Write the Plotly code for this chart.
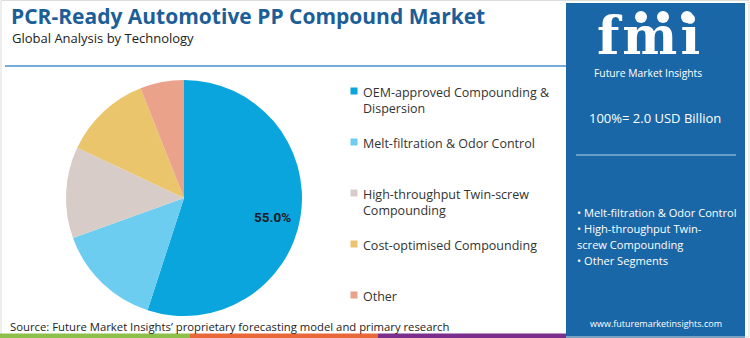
import math
import plotly.graph_objects as go

W, H = 750, 338

# Market share by technology (%)
segments = [
    "OEM-approved Compounding & Dispersion",
    "Melt-filtration & Odor Control",
    "High-throughput Twin-screw Compounding",
    "Cost-optimised Compounding",
    "Other",
]
legend_text = [
    "OEM-approved Compounding &<br>Dispersion",
    "Melt-filtration & Odor Control",
    "High-throughput Twin-screw<br>Compounding",
    "Cost-optimised Compounding",
    "Other",
]
shares = [55.0, 14.5, 12.5, 12.0, 6.0]
colors = ["#0aa5dc", "#6dcdf1", "#d8ccc8", "#ebc56c", "#eaa28b"]

title = "PCR-Ready Automotive PP Compound Market"
subtitle = "Global Analysis by Technology"
total_label = "100%= 2.0 USD Billion"
panel_bullets = [
    "• Melt-filtration & Odor Control",
    "• High-throughput Twin-",
    "screw Compounding",
    "• Other Segments",
]
source = "Source: Future Market Insights’ proprietary forecasting model and primary research"
website = "www.futuremarketinsights.com"

PANEL = "#1a67a8"
FONT = "Open Sans"


def px(x):
    return x / W


def py(y):
    return 1 - y / H


# pie geometry (pixels)
CX, CY, R = 184, 198, 118

fig = go.Figure(
    go.Pie(
        labels=segments,
        values=shares,
        marker=dict(colors=colors, line=dict(width=0)),
        sort=False,
        direction="clockwise",
        rotation=0,
        textinfo="none",
        hoverinfo="skip",
        showlegend=False,
        domain=dict(x=[px(CX - R), px(CX + R)], y=[py(CY + R), py(CY - R)]),
    )
)

shapes = []
annotations = []

# value label of the leading slice, placed along its mid-angle
mid = math.radians(shares[0] / sum(shares) * 360 / 2)
lx = CX + 0.76 * R * math.sin(mid)
ly = CY - 0.76 * R * math.cos(mid) + 5
annotations.append(dict(text=f"<b>{shares[0]:.1f}%</b>", x=px(lx), y=py(ly), xref="paper", yref="paper",
                        xanchor="center", yanchor="middle", showarrow=False,
                        font=dict(family="Roboto", size=13.5, color="#1b1b2a")))

# outer frame
shapes.append(dict(type="rect", xref="paper", yref="paper", x0=px(1), x1=px(749),
                   y0=py(337), y1=py(0.5), line=dict(color="#dcdcdc", width=1)))

# header
annotations.append(dict(text=f"<b>{title}</b>", x=px(9), y=py(16), xref="paper", yref="paper",
                        xanchor="left", yanchor="middle", showarrow=False,
                        font=dict(family=FONT, size=21, color="#1c5e98")))
annotations.append(dict(text=subtitle, x=px(10), y=py(38), xref="paper", yref="paper",
                        xanchor="left", yanchor="middle", showarrow=False,
                        font=dict(family=FONT, size=13, color="#222222")))
shapes.append(dict(type="line", xref="paper", yref="paper", x0=px(5), x1=px(566),
                   y0=py(66), y1=py(66), line=dict(color="#4a8fcb", width=1.5)))

# legend
legend_y = [91, 142, 193, 244, 295]
for lab, col, yc in zip(legend_text, colors, legend_y):
    shapes.append(dict(type="rect", xref="paper", yref="paper", x0=px(350.5), x1=px(357.5),
                       y0=py(yc + 3.5), y1=py(yc - 3.5), fillcolor=col, line=dict(width=0)))
    annotations.append(dict(text=lab, x=px(361), y=py(yc - 9), xref="paper", yref="paper",
                            xanchor="left", yanchor="top", align="left", showarrow=False,
                            font=dict(family=FONT, size=12.5, color="#333333")))

# footer
annotations.append(dict(text=source, x=px(8), y=py(326), xref="paper", yref="paper",
                        xanchor="left", yanchor="middle", showarrow=False,
                        font=dict(family=FONT, size=11.3, color="#222222")))
for x0, x1, c in [(0, 190, "#8cc04a"), (190, 378, "#e8683a"), (378, 566, "#7b2e8c")]:
    shapes.append(dict(type="rect", xref="paper", yref="paper", x0=px(x0), x1=px(x1),
                       y0=py(338), y1=py(333.5), fillcolor=c, line=dict(width=0)))

# right panel
shapes.append(dict(type="rect", xref="paper", yref="paper", x0=px(566), x1=px(745),
                   y0=py(338), y1=py(3), fillcolor=PANEL, line=dict(width=0), layer="below"))

# logo wordmark
annotations.append(dict(text="<span style='letter-spacing:3px'><b>fmi</b></span>",
                        x=px(650), y=py(4), xref="paper", yref="paper",
                        xanchor="center", yanchor="top", showarrow=False, borderpad=0,
                        font=dict(family="DejaVu Serif", size=52, color="white")))
for yy in range(15, 56, 4):
    shapes.append(dict(type="line", xref="paper", yref="paper", x0=px(590), x1=px(712),
                       y0=py(yy), y1=py(yy), line=dict(color=PANEL, width=1.2)))
for cx in [641, 663, 687]:
    shapes.append(dict(type="circle", xref="paper", yref="paper", x0=px(cx - 6), x1=px(cx + 6),
                       y0=py(23), y1=py(11), fillcolor="white", line=dict(width=0)))
annotations.append(dict(text="Future Market Insights", x=px(648), y=py(72.5), xref="paper", yref="paper",
                        xanchor="center", yanchor="middle", showarrow=False, borderpad=0,
                        font=dict(family=FONT, size=10.3, color="white")))

annotations.append(dict(text=total_label, x=px(655), y=py(118), xref="paper", yref="paper",
                        xanchor="center", yanchor="middle", showarrow=False,
                        font=dict(family=FONT, size=13, color="white")))
shapes.append(dict(type="line", xref="paper", yref="paper", x0=px(576), x1=px(736),
                   y0=py(155), y1=py(155), line=dict(color="#bcd3ea", width=1.2)))
for i, b in enumerate(panel_bullets):
    annotations.append(dict(text=b, x=px(575), y=py(212 + 16 * i), xref="paper", yref="paper",
                            xanchor="left", yanchor="middle", showarrow=False,
                            font=dict(family=FONT, size=11.1, color="white")))
annotations.append(dict(text=website, x=px(656), y=py(323), xref="paper", yref="paper",
                        xanchor="center", yanchor="middle", showarrow=False,
                        font=dict(family=FONT, size=9, color="white")))

fig.update_layout(
    width=W, height=H,
    margin=dict(l=0, r=0, t=0, b=0),
    paper_bgcolor="white",
    plot_bgcolor="white",
    shapes=shapes,
    annotations=annotations,
)

fig.write_html("out.html", config={"displayModeBar": False})
